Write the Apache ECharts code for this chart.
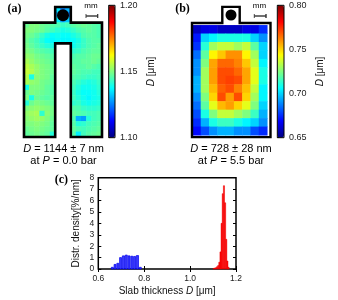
<!DOCTYPE html>
<html><head><meta charset="utf-8">
<script src="https://cdn.jsdelivr.net/npm/echarts@6/dist/echarts.min.js"></script>
<style>html,body{margin:0;padding:0;background:#fff}#c{width:338px;height:300px}</style>
</head><body><div id="c"></div>
<script>
const N = null;
// (a) thickness map at P = 0.0 bar, values in nm (null = outside the sample)
const mapA = [
 [N,N,N,N,N,N,1135,1125,1130,N,N,N,N,N,N],
 [N,N,N,N,N,N,1130,1120,1125,N,N,N,N,N,N],
 [N,N,N,N,N,N,1136,1128,1132,N,N,N,N,N,N],
 [1148,1150,1150,1148,1147,1146,1145,1143,1144,1146,1147,1148,1147,1146,1145],
 [1150,1150,1149,1148,1146,1144,1142,1140,1141,1143,1145,1146,1147,1146,1145],
 [1149,1148,1146,1143,1140,1138,1139,1138,1138,1140,1142,1145,1146,1146,1145],
 [1148,1146,1144,1141,1138,1137,1138,1137,1137,1138,1140,1143,1145,1146,1146],
 [1149,1147,1145,1143,1141,1140,N,N,N,1139,1141,1143,1145,1146,1147],
 [1150,1149,1147,1146,1145,1144,N,N,N,1142,1143,1145,1146,1147,1147],
 [1152,1151,1149,1148,1147,1146,N,N,N,1145,1146,1146,1147,1148,1148],
 [1154,1152,1150,1149,1148,1147,N,N,N,1146,1146,1147,1147,1148,1147],
 [1156,1154,1152,1150,1149,1148,N,N,N,1147,1146,1146,1147,1146,1145],
 [1157,1155,1152,1150,1149,1148,N,N,N,1147,1146,1145,1145,1144,1144],
 [1155,1140,1151,1150,1149,1147,N,N,N,1146,1145,1144,1143,1143,1144],
 [1154,1152,1151,1149,1148,1147,N,N,N,1145,1143,1141,1140,1141,1143],
 [1139,1150,1150,1149,1147,1146,N,N,N,1144,1141,1139,1139,1140,1142],
 [1148,1150,1149,1148,1147,1146,N,N,N,1143,1140,1138,1138,1139,1141],
 [1150,1140,1148,1147,1146,1147,N,N,N,1144,1141,1139,1137,1139,1140],
 [1141,1148,1150,1149,1148,1147,N,N,N,1142,1143,1140,1139,1140,1141],
 [1150,1151,1152,1151,1150,1149,N,N,N,1146,1145,1143,1142,1142,1143],
 [1152,1153,1154,1142,1151,1149,N,N,N,1147,1146,1145,1144,1144,1145],
 [1151,1152,1153,1152,1150,1148,N,N,N,1145,1130,1128,1141,1144,1145],
 [1150,1150,1151,1150,1149,1147,N,N,N,1146,1141,1142,1144,1145,1146],
 [1148,1149,1150,1149,1148,1147,N,N,N,1147,1145,1144,1145,1146,1147],
 [1147,1148,1149,1148,1147,1141,N,N,N,1146,1136,1144,1146,1147,1148]
];
// (b) thickness map at P = 5.5 bar, values in um
const mapB = [
 [0.660,0.665,0.665,0.660,0.660,0.660,0.665,0.665,0.675],
 [0.672,0.700,0.705,0.710,0.710,0.710,0.710,0.700,0.690],
 [0.676,0.712,0.730,0.735,0.735,0.730,0.735,0.720,0.700],
 [0.685,0.720,0.745,0.752,0.760,0.760,0.745,0.730,0.700],
 [0.690,0.725,0.757,0.766,0.766,0.762,0.752,0.735,0.705],
 [0.690,0.730,0.758,0.770,0.770,0.766,0.757,0.740,0.710],
 [0.695,0.730,0.758,0.770,0.772,0.770,0.757,0.740,0.710],
 [0.695,0.730,0.754,0.767,0.770,0.762,0.753,0.735,0.705],
 [0.690,0.725,0.750,0.770,0.758,0.770,0.750,0.730,0.705],
 [0.685,0.720,0.740,0.754,0.758,0.750,0.740,0.725,0.700],
 [0.680,0.710,0.725,0.735,0.735,0.730,0.725,0.715,0.695],
 [0.675,0.695,0.710,0.715,0.715,0.710,0.705,0.700,0.690],
 [0.670,0.680,0.690,0.695,0.695,0.690,0.690,0.680,0.675]
];
// (c) histograms: bin edges (um) and densities (%/nm)
const blueEdges = [0.655,0.667,0.679,0.691,0.703,0.716,0.728,0.740,0.752,0.764,0.777,0.789];
const blueHeights = [0.15,0.40,0.50,1.00,1.15,1.22,1.15,1.12,1.10,1.18,0.15];
const redEdges = [1.100,1.105,1.110,1.115,1.120,1.125,1.130,1.135,1.140,1.145,1.150,1.155,1.160,1.165,1.170];
const redHeights = [0.05,0.08,0.12,0.20,0.30,0.60,1.50,4.00,6.60,7.30,5.80,2.60,0.70,0.15];
// colour-bar ranges
const rangeA = [1.10, 1.20];
const rangeB = [0.65, 0.80];
const histX = [0.6, 1.2];
const histY = [0, 8];

const JET = ['#00007f','#0000ff','#007fff','#00ffff','#7fff7f','#ffff00','#ff7f00','#ff0000','#7f0000'];
const SANS = '"Liberation Sans", Arial, sans-serif';

function cells(m, scale) {
  const out = [];
  m.forEach((row, r) => row.forEach((v, c) => { if (v !== null) out.push([c, r, v * scale]); }));
  return out;
}
const idx = n => Array.from({length: n}, (_, i) => String(i));
function bins(edges, h) { return h.map((v, i) => [edges[i], edges[i + 1], v]); }

const cbAxis = (grid, rng) => ({
  type: 'value', gridIndex: grid, position: 'right', min: rng[0], max: rng[1], interval: 0.05,
  axisLine: {show: false}, splitLine: {show: false},
  axisTick: {show: true, inside: false, length: 2, lineStyle: {color: '#222'}},
  axisLabel: {margin: 5, fontSize: 9, fontFamily: SANS, color: '#222', formatter: v => v.toFixed(2)},
  name: '{i|D} [μm]', nameLocation: 'middle', nameRotate: 90, nameGap: 31,
  nameTextStyle: {fontSize: 10, fontFamily: SANS, color: '#111', rich: {i: {fontStyle: 'italic', fontSize: 10, fontFamily: SANS, color: '#111'}}}
});
const hidCat = (grid, n, inv) => ({type: 'category', gridIndex: grid, data: idx(n), show: false, inverse: !!inv});

const option = {
  animation: false,
  backgroundColor: '#fff',
  grid: [
    {left: 24, top: 7, width: 78, height: 130},
    {left: 192.7, top: 25.3, width: 74.6, height: 110},
    {left: 108.7, top: 5.3, width: 6.3, height: 132.4, show: true, z: 10, borderColor: '#000', borderWidth: 1, backgroundColor: 'transparent'},
    {left: 277.3, top: 5.3, width: 6.7, height: 132.4, show: true, z: 10, borderColor: '#000', borderWidth: 1, backgroundColor: 'transparent'},
    {left: 98.3, top: 177.7, width: 137.7, height: 91.3, show: true, borderColor: '#000', borderWidth: 1.5, backgroundColor: 'transparent'}
  ],
  xAxis: [
    hidCat(0, 15), hidCat(1, 9),
    {type: 'value', gridIndex: 2, show: false, min: 0, max: 1},
    {type: 'value', gridIndex: 3, show: false, min: 0, max: 1},
    {type: 'value', gridIndex: 4, min: histX[0], max: histX[1], interval: 0.2,
     axisLine: {show: false}, splitLine: {show: false},
     axisTick: {show: true, inside: true, length: 3, lineStyle: {color: '#000'}},
     axisLabel: {margin: 5, fontSize: 8.5, fontFamily: SANS, color: '#222', formatter: v => v.toFixed(1)},
     name: 'Slab thickness {i|D} [μm]', nameLocation: 'middle', nameGap: 17,
     nameTextStyle: {fontSize: 10, fontFamily: SANS, color: '#111', rich: {i: {fontStyle: 'italic', fontSize: 10, fontFamily: SANS, color: '#111'}}}},
    {type: 'value', gridIndex: 4, position: 'top', min: histX[0], max: histX[1], interval: 0.2,
     axisLine: {show: false}, splitLine: {show: false}, axisLabel: {show: false},
     axisTick: {show: true, inside: true, length: 3, lineStyle: {color: '#000'}}}
  ],
  yAxis: [
    hidCat(0, 25, true), hidCat(1, 13, true),
    cbAxis(2, rangeA), cbAxis(3, rangeB),
    {type: 'value', gridIndex: 4, min: histY[0], max: histY[1], interval: 1,
     axisLine: {show: false}, splitLine: {show: false},
     axisTick: {show: true, inside: true, length: 3, lineStyle: {color: '#000'}},
     axisLabel: {margin: 4, fontSize: 8.5, fontFamily: SANS, color: '#222'},
     name: 'Distr. density[%/nm]', nameLocation: 'middle', nameRotate: 90, nameGap: 17,
     nameTextStyle: {fontSize: 10, fontFamily: SANS, color: '#111'}},
    {type: 'value', gridIndex: 4, position: 'right', min: histY[0], max: histY[1], interval: 1,
     axisLine: {show: false}, splitLine: {show: false}, axisLabel: {show: false},
     axisTick: {show: true, inside: true, length: 3, lineStyle: {color: '#000'}}}
  ],
  visualMap: [
    {type: 'continuous', seriesIndex: 0, min: rangeA[0], max: rangeA[1], calculable: false, inRange: {color: JET},
     left: 108.7, top: 5.3, itemWidth: 6.3, itemHeight: 132.4, padding: 0, hoverLink: false},
    {type: 'continuous', seriesIndex: 1, min: rangeB[0], max: rangeB[1], calculable: false, inRange: {color: JET},
     left: 277.3, top: 5.3, itemWidth: 6.7, itemHeight: 132.4, padding: 0, hoverLink: false}
  ],
  series: [
    {type: 'heatmap', xAxisIndex: 0, yAxisIndex: 0, data: cells(mapA, 0.001), itemStyle: {borderWidth: 0}, emphasis: {disabled: true}},
    {type: 'heatmap', xAxisIndex: 1, yAxisIndex: 1, data: cells(mapB, 1), itemStyle: {borderWidth: 0}, emphasis: {disabled: true}},
    {type: 'custom', xAxisIndex: 4, yAxisIndex: 4, data: bins(blueEdges, blueHeights), encode: {x: [0, 1], y: 2},
     renderItem: (p, api) => {
       const a = api.coord([api.value(0), 0]), b = api.coord([api.value(1), api.value(2)]);
       return {type: 'rect', shape: {x: a[0] + 0.4, y: b[1], width: b[0] - a[0] - 0.8, height: a[1] - b[1]},
               style: {fill: '#3a3aff', stroke: '#0000ee', lineWidth: 0.7}};
     }},
    {type: 'custom', xAxisIndex: 4, yAxisIndex: 4, data: bins(redEdges, redHeights), encode: {x: [0, 1], y: 2},
     renderItem: (p, api) => {
       const a = api.coord([api.value(0), 0]), b = api.coord([api.value(1), api.value(2)]);
       return {type: 'rect', shape: {x: a[0], y: b[1], width: b[0] - a[0], height: a[1] - b[1]},
               style: {fill: '#ff0000', stroke: '#ee0000', lineWidth: 0.5}};
     }}
  ]
};

const chart = echarts.init(document.getElementById('c'));
chart.setOption(option);

// sample outlines and annotations placed from the grids' pixel positions
function cellEdge(grid, c, r) {
  const p0 = chart.convertToPixel({gridIndex: grid}, [0, 0]);
  const p1 = chart.convertToPixel({gridIndex: grid}, [1, 1]);
  const w = p1[0] - p0[0], h = p1[1] - p0[1];
  return [p0[0] - w / 2 + c * w, p0[1] - h / 2 + r * h];
}
const outlineA = [[0,3],[6,3],[6,0],[9,0],[9,3],[15,3],[15,25],[9,25],[9,7],[6,7],[6,25],[0,25]].map(q => cellEdge(0, q[0], q[1]));
const bl = cellEdge(1, 0, 0), br = cellEdge(1, 9, 13);
const L = bl[0] - 0.7, R = br[0] + 3.2, T = bl[1] - 2.3, B = br[1] + 1.8, cx = (bl[0] + br[0]) / 2 + 1;
const outlineB = [[L, T], [cx - 8.7, T], [cx - 8.7, 6.9], [cx + 8.7, 6.9], [cx + 8.7, T], [R, T], [R, B], [L, B]];
const tabA = cellEdge(0, 7.5, 1.5);

function txt(x, y, s, font, rich) {
  return {type: 'text', x: x, y: y, z: 100,
    style: {text: s, font: font, fill: '#000', textAlign: 'center', textVerticalAlign: 'middle', align: 'center', verticalAlign: 'middle', rich: rich}};
}
function scaleBar(x0, x1, y) {
  return {type: 'polyline', z: 100, shape: {points: [[x0, y - 2], [x0, y], [x1, y], [x1, y - 2], [x1, y + 2], [x1, y], [x0, y], [x0, y + 2]]},
    style: {stroke: '#333', lineWidth: 0.9, fill: null}};
}
const it = {i: {fontStyle: 'italic', fontSize: 11, fontFamily: SANS, fill: '#000'}};
const F11 = '11px ' + SANS;
chart.setOption({graphic: [
  {type: 'polygon', z: 100, shape: {points: outlineA}, style: {fill: null, stroke: '#000', lineWidth: 2.6, lineJoin: 'miter'}},
  {type: 'circle', z: 101, shape: {cx: tabA[0], cy: tabA[1] + 0.5, r: 6}, style: {fill: '#000'}},
  {type: 'polygon', z: 100, shape: {points: outlineB}, style: {fill: null, stroke: '#000', lineWidth: 2.4, lineJoin: 'miter'}},
  {type: 'circle', z: 101, shape: {cx: cx, cy: 15, r: 5.5}, style: {fill: '#000'}},
  txt(14.5, 9, '(a)', 'bold 12px "Liberation Serif", serif'),
  txt(182.5, 9, '(b)', 'bold 12px "Liberation Serif", serif'),
  txt(61.3, 179.5, '(c)', 'bold 12px "Liberation Serif", serif'),
  txt(91, 6, 'mm', '8px ' + SANS), scaleBar(86, 97.7, 16),
  txt(259.5, 6, 'mm', '8px ' + SANS), scaleBar(254.3, 266, 16),
  txt(63.5, 149, '{i|D} = 1144 ± 7 nm', F11, it),
  txt(63.5, 161, 'at {i|P} = 0.0 bar', F11, it),
  txt(231, 149, '{i|D} = 728 ± 28 nm', F11, it),
  txt(231, 161, 'at {i|P} = 5.5 bar', F11, it)
]});
</script></body></html>
